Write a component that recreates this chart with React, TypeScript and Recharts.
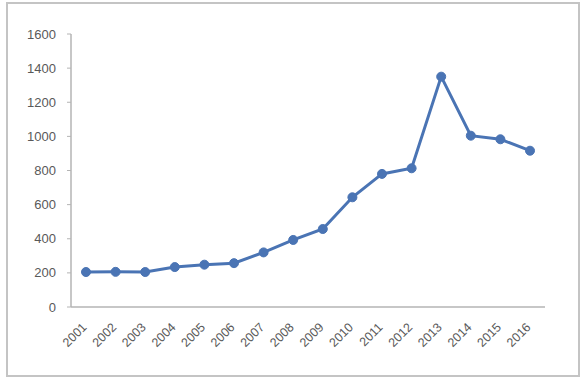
import { LineChart, Line, XAxis, YAxis } from 'recharts';

const years = ['2001', '2002', '2003', '2004', '2005', '2006', '2007', '2008', '2009', '2010', '2011', '2012', '2013', '2014', '2015', '2016'];
const values = [205, 206, 205, 234, 248, 257, 320, 393, 457, 643, 780, 813, 1350, 1004, 983, 916];
const yTicks = [0, 200, 400, 600, 800, 1000, 1200, 1400, 1600];

const data = years.map((year, i) => ({ year, value: values[i] }));

const font = '"Liberation Sans", Arial, sans-serif';

function YearTick(props: any) {
    const { x, y, payload } = props;
    return (
        <g transform={`translate(${x + 1.5},${y + 21})`}>
            <text textAnchor="end" transform="rotate(-45)" fill="#595959" fontSize={12.5} fontFamily={font}>
                {payload.value}
            </text>
        </g>
    );
}

export default function App() {
    return (
        <div style={{ position: 'absolute', left: 0, top: 0, width: 588, height: 380, background: '#fff' }}>
            <div
                style={{
                    position: 'absolute',
                    left: 6,
                    top: 2,
                    width: 570,
                    height: 371,
                    border: '2px solid #c4c4c4',
                }}
            />
            <div style={{ position: 'absolute', left: 0, top: 0 }}>
                <LineChart width={588} height={380} data={data} margin={{ top: 34, right: 43, left: 11, bottom: 13 }}>
                    <XAxis
                        dataKey="year"
                        interval={0}
                        height={60}
                        padding={{ left: 15, right: 15 }}
                        tickSize={0}
                        tickMargin={0}
                        axisLine={{ stroke: '#b4b4b4', strokeWidth: 1.5 }}
                        tickLine={false}
                        tick={<YearTick />}
                    />
                    <YAxis
                        width={60}
                        domain={[0, 1600]}
                        ticks={yTicks}
                        interval={0}
                        tickSize={4}
                        tickMargin={11}
                        axisLine={{ stroke: '#b4b4b4', strokeWidth: 1.5 }}
                        tickLine={{ stroke: '#b4b4b4' }}
                        tick={{ fill: '#595959', fontSize: 13, fontFamily: font }}
                    />
                    <Line
                        type="linear"
                        dataKey="value"
                        stroke="#4a74b4"
                        strokeWidth={3}
                        dot={{ r: 4.5, fill: '#4a74b4', stroke: '#4a74b4', strokeWidth: 1 }}
                        isAnimationActive={false}
                    />
                </LineChart>
            </div>
        </div>
    );
}
